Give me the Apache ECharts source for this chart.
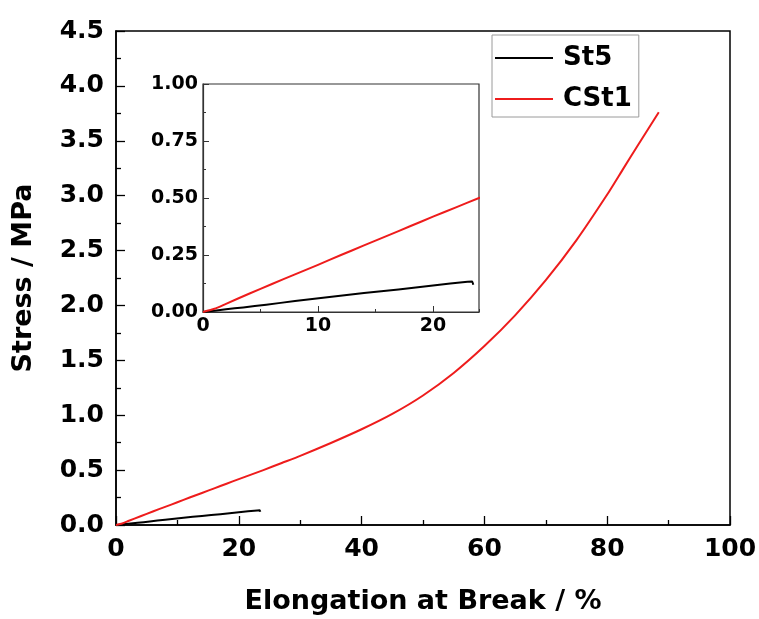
<!DOCTYPE html>
<html>
<head>
<meta charset="utf-8">
<script src="https://cdn.jsdelivr.net/npm/echarts@6/dist/echarts.min.js"></script>
<style>
  html, body { margin: 0; padding: 0; background: #fff; }
  #chart { width: 759px; height: 619px; }
</style>
</head>
<body>
<div id="chart"></div>
<script>
// Tensile curves: elongation (%) vs stress (MPa)
const seriesNames = ['St5', 'CSt1'];

const st5Elongation = [0, 1, 2, 3.5, 5.5, 8, 11, 14, 17, 20, 23, 23.4, 23.5];
const st5Stress     = [0, 0.006, 0.012, 0.02, 0.032, 0.048, 0.066, 0.083, 0.099, 0.116, 0.133, 0.134, 0.12];

const cst1Elongation = [0, 1, 2, 4, 6, 8, 10, 12, 14, 16, 18, 20, 22, 24, 27, 30, 35, 40, 45, 50, 55, 60, 65, 70, 75, 80, 82.5, 85, 88.4];
const cst1Stress     = [0, 0.014, 0.036, 0.08, 0.123, 0.165, 0.207, 0.25, 0.292, 0.334, 0.376, 0.418, 0.459, 0.5, 0.565, 0.63, 0.747, 0.872, 1.012, 1.18, 1.385, 1.63, 1.91, 2.23, 2.595, 3.01, 3.235, 3.46, 3.76];

const xTitle = 'Elongation at Break / %';
const yTitle = 'Stress / MPa';

const FONT = 'DejaVu Sans';
const pairs = (xs, ys) => xs.map((x, i) => [x, ys[i]]);
const st5Data = pairs(st5Elongation, st5Stress);
const cst1Data = pairs(cst1Elongation, cst1Stress);

const chart = echarts.init(document.getElementById('chart'), null, { renderer: 'canvas' });

const tickLabel = (size) => ({ color: '#000', fontFamily: FONT, fontWeight: 'bold', fontSize: size });

chart.setOption({
  backgroundColor: '#fff',
  animation: false,
  legend: {
    data: seriesNames,
    orient: 'vertical',
    left: 492,
    top: 35,
    padding: [9, 7, 4, 3],
    icon: 'rect',
    itemWidth: 58,
    itemHeight: 2,
    itemGap: 13,
    borderColor: '#9a9a9a',
    borderWidth: 1,
    backgroundColor: '#fff',
    textStyle: { color: '#000', fontFamily: FONT, fontWeight: 'bold', fontSize: 26, lineHeight: 28, padding: [0, 0, 0, 5] }
  },
  grid: [
    { left: 116, top: 31, right: 29, bottom: 94, show: true, borderColor: '#000', borderWidth: 1.5, backgroundColor: 'transparent', containLabel: false, outerBoundsMode: 'none' },
    { left: 203, top: 84, width: 276, height: 228, show: true, borderColor: '#333', borderWidth: 1.2, backgroundColor: '#fff', containLabel: false, outerBoundsMode: 'none' }
  ],
  xAxis: [
    {
      gridIndex: 0, type: 'value', min: 0, max: 100, interval: 20,
      name: xTitle, nameLocation: 'middle', nameGap: 63,
      nameTextStyle: { color: '#000', fontFamily: FONT, fontWeight: 'bold', fontSize: 27 },
      axisLine: { show: true, lineStyle: { color: '#000', width: 1.5 } },
      axisTick: { show: true, inside: true, length: 9, lineStyle: { color: '#000', width: 1.3 } },
      minorTick: { show: true, splitNumber: 2, length: 5, lineStyle: { color: '#000', width: 1.3 } },
      splitLine: { show: false },
      axisLabel: Object.assign(tickLabel(25), { margin: 12 })
    },
    {
      gridIndex: 1, type: 'value', min: 0, max: 24, interval: 10,
      axisLine: { show: true, lineStyle: { color: '#333', width: 1.2 } },
      axisTick: { show: true, inside: true, length: 6, lineStyle: { color: '#333', width: 1 } },
      splitLine: { show: false },
      axisLabel: Object.assign(tickLabel(19), { margin: 5, showMaxLabel: false,
        formatter: v => (v % 10 === 0 ? String(v) : '') })
    },
    {
      gridIndex: 1, type: 'value', min: 0, max: 24, interval: 5, position: 'bottom',
      axisLine: { show: false },
      axisTick: { show: true, inside: true, length: 3, lineStyle: { color: '#333', width: 1 } },
      splitLine: { show: false },
      axisLabel: { show: false }
    }
  ],
  yAxis: [
    {
      gridIndex: 0, type: 'value', min: 0, max: 4.5, interval: 0.5,
      name: yTitle, nameLocation: 'middle', nameGap: 79,
      nameTextStyle: { color: '#000', fontFamily: FONT, fontWeight: 'bold', fontSize: 27 },
      axisLine: { show: true, lineStyle: { color: '#000', width: 1.5 } },
      axisTick: { show: true, inside: true, length: 9, lineStyle: { color: '#000', width: 1.3 } },
      minorTick: { show: true, splitNumber: 2, length: 5, lineStyle: { color: '#000', width: 1.3 } },
      splitLine: { show: false },
      axisLabel: Object.assign(tickLabel(25), { margin: 12, formatter: v => v.toFixed(1) })
    },
    {
      gridIndex: 1, type: 'value', min: 0, max: 1, interval: 0.25,
      axisLine: { show: true, lineStyle: { color: '#333', width: 1.2 } },
      axisTick: { show: true, inside: true, length: 6, lineStyle: { color: '#333', width: 1 } },
      minorTick: { show: true, splitNumber: 2, length: 3, lineStyle: { color: '#333', width: 1 } },
      splitLine: { show: false },
      axisLabel: Object.assign(tickLabel(19), { margin: 5, formatter: v => v.toFixed(2) })
    }
  ],
  series: [
    { name: seriesNames[0], type: 'line', xAxisIndex: 0, yAxisIndex: 0, data: st5Data, symbol: 'none', smooth: 0.15,
      lineStyle: { color: '#000', width: 2, join: 'round' }, itemStyle: { color: '#000' }, z: 3 },
    { name: seriesNames[1], type: 'line', xAxisIndex: 0, yAxisIndex: 0, data: cst1Data, symbol: 'none', smooth: 0.2,
      lineStyle: { color: '#ee1c1c', width: 2, join: 'round' }, itemStyle: { color: '#ee1c1c' }, z: 3 },
    { name: seriesNames[0], type: 'line', xAxisIndex: 1, yAxisIndex: 1, data: st5Data, symbol: 'none', smooth: 0.15, clip: true,
      lineStyle: { color: '#000', width: 2, join: 'round' }, itemStyle: { color: '#000' }, z: 4 },
    { name: seriesNames[1], type: 'line', xAxisIndex: 1, yAxisIndex: 1, data: cst1Data, symbol: 'none', smooth: 0.2, clip: true,
      lineStyle: { color: '#ee1c1c', width: 2, join: 'round' }, itemStyle: { color: '#ee1c1c' }, z: 4 }
  ]
});
</script>
</body>
</html>
